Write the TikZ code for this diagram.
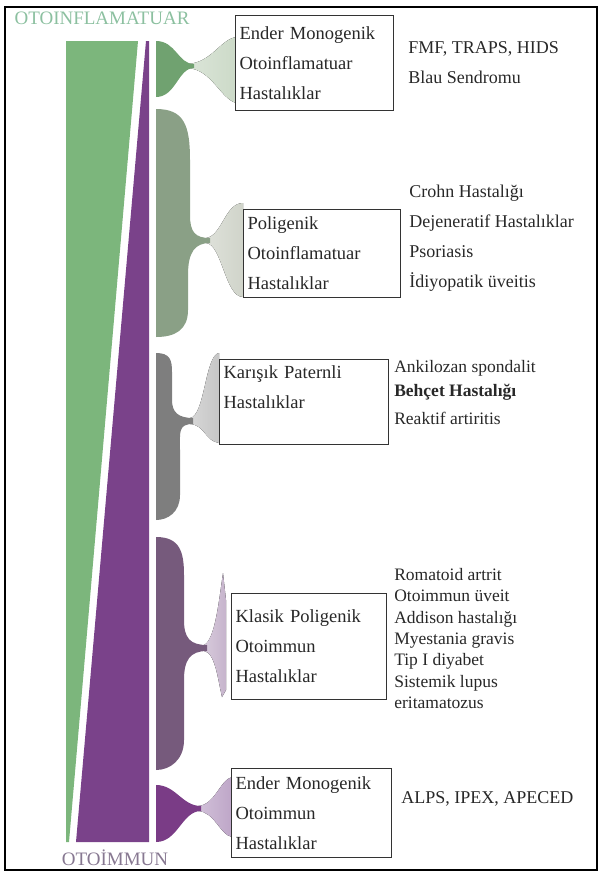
\documentclass[tikz,border=0pt]{standalone}
\usepackage{fontspec}
\setmainfont{Liberation Serif}
\usetikzlibrary{positioning}
\definecolor{inflamgreen}{RGB}{124,182,124}
\definecolor{immunpurple}{RGB}{122,66,138}
\definecolor{titlegreen}{RGB}{140,192,160}
\definecolor{titlepurple}{RGB}{135,120,145}
\definecolor{lobeone}{RGB}{112,162,112}
\definecolor{fanone}{RGB}{204,218,200}
\definecolor{lobetwo}{RGB}{138,160,134}
\definecolor{fantwo}{RGB}{208,212,202}
\definecolor{lobethree}{RGB}{126,126,126}
\definecolor{fanthree}{RGB}{198,198,198}
\definecolor{lobefour}{RGB}{118,90,124}
\definecolor{fanfour}{RGB}{198,180,204}
\definecolor{lobefive}{RGB}{122,60,134}
\definecolor{fanfive}{RGB}{190,166,200}
\definecolor{textgray}{RGB}{40,40,40}
\tikzset{
  box/.style={rectangle, draw=black!80, line width=1.1pt, fill=white, anchor=north west, align=left, inner sep=4pt, text=textgray, font=\fontsize{18.5}{30}\selectfont},
  list/.style={anchor=west, align=left, inner sep=0pt, text=textgray, font=\fontsize{18}{30}\selectfont},
  title/.style={inner sep=0pt, font=\fontsize{19}{20}\selectfont},
  fan/.style={left color=#1!70, right color=#1}
}
\begin{document}
\begin{tikzpicture}[x=1pt, y=-1pt]

  \useasboundingbox (0,0) rectangle (602,876);
  \draw[line width=1.5pt] (5,7) rectangle (597,870);

  \node[title, text=titlegreen]  (toptitle) at (102,18)  {OTOINFLAMATUAR};
  \node[title, text=titlepurple] (bottitle) at (115,858) {OTOİMMUN};

  \fill[inflamgreen] (66,41) -- (138,41) -- (69,842) -- (66,842) -- cycle;
  \fill[immunpurple] (146,41) -- (149,41) -- (149,842) -- (76,842) -- cycle;

  \fill[fan=fanone] (188,64) .. controls (212,62) and (220,40) .. (236,37)
    -- (236,103) .. controls (220,98) and (212,70) .. (188,68) -- cycle;
  \fill[lobeone] (156,41) .. controls (176,41) and (178,64) .. (194,64)
    -- (194,68) .. controls (178,68) and (176,97) .. (156,97) -- cycle;

  \fill[fan=fantwo] (206,238) .. controls (222,236) and (225,203) .. (243,203)
    -- (243,297) .. controls (225,297) and (222,244) .. (206,243) -- cycle;
  \fill[lobetwo] (156,109) .. controls (184,109) and (190,125) .. (190,160)
    -- (190,215) .. controls (190,232) and (195,238) .. (210,238)
    -- (210,243) .. controls (195,243) and (188,252) .. (188,275)
    -- (188,310) .. controls (188,330) and (175,337) .. (156,337) -- cycle;

  \fill[fan=fanthree] (190,418) .. controls (205,416) and (205,355) .. (219,353)
    -- (219,443) .. controls (205,441) and (205,425) .. (190,424) -- cycle;
  \fill[lobethree] (156,353) .. controls (170,353) and (172,360) .. (172,372)
    -- (172,400) .. controls (172,412) and (178,418) .. (193,418)
    -- (193,424) .. controls (178,424) and (180,432) .. (180,450)
    -- (180,495) .. controls (180,512) and (168,520) .. (156,520) -- cycle;

  \fill[fan=fanfour] (204,645) .. controls (215,640) and (219,600) .. (223,573)
    -- (226,600) -- (226,690) -- (222,697) .. controls (218,680) and (215,652) .. (204,651) -- cycle;
  \fill[lobefour] (156,537) .. controls (180,537) and (184,552) .. (184,575)
    -- (184,620) .. controls (184,638) and (190,645) .. (207,645)
    -- (207,651) .. controls (190,651) and (184,660) .. (184,680)
    -- (184,740) .. controls (184,760) and (170,770) .. (156,770) -- cycle;

  \fill[fan=fanfive] (198,806) .. controls (215,805) and (220,780) .. (232,777)
    -- (232,837) .. controls (220,835) and (215,812) .. (198,811) -- cycle;
  \fill[lobefive] (156,785) .. controls (176,785) and (182,806) .. (201,806)
    -- (201,811) .. controls (182,811) and (178,842) .. (156,842) -- cycle;

  \node[box, text width=150pt, minimum height=95pt]  (box1) at (235,15)
    {Ender Monogenik\\Otoinflamatuar\\Hastalıklar};
  \node[box, text width=149pt, minimum height=88pt]  (box2) at (243,209)
    {Poligenik\\Otoinflamatuar\\Hastalıklar};
  \node[box, text width=161pt, minimum height=85pt]  (box3) at (219,359)
    {Karışık Paternli\\Hastalıklar\\ \mbox{}};
  \node[box, text width=147pt, minimum height=106pt] (box4) at (231,593)
    {Klasik Poligenik\\Otoimmun\\Hastalıklar};
  \node[box, text width=152pt, minimum height=89pt]  (box5) at (231,768)
    {Ender Monogenik\\Otoimmun\\Hastalıklar};

  \node[list, right=14pt of box1] (list1)
    {FMF, TRAPS, HIDS\\Blau Sendromu};
  \node[list, right=8pt of box2, yshift=15pt] (list2)
    {Crohn Hastalığı\\Dejeneratif Hastalıklar\\Psoriasis\\İdiyopatik üveitis};
  \node[list, right=5pt of box3, yshift=10pt, font=\fontsize{17.5}{24}\selectfont] (list3)
    {Ankilozan spondalit\\\textbf{Behçet Hastalığı}\\[4pt]Reaktif artiritis};
  \node[list, right=7pt of box4, yshift=8pt, font=\fontsize{17.5}{21.3}\selectfont] (list4)
    {Romatoid artrit\\Otoimmun üveit\\Addison hastalığı\\Myestania gravis\\Tip I diyabet\\Sistemik lupus\\eritamatozus};
  \node[list, right=9pt of box5, yshift=14pt] (list5)
    {ALPS, IPEX, APECED};

\end{tikzpicture}
\end{document}
